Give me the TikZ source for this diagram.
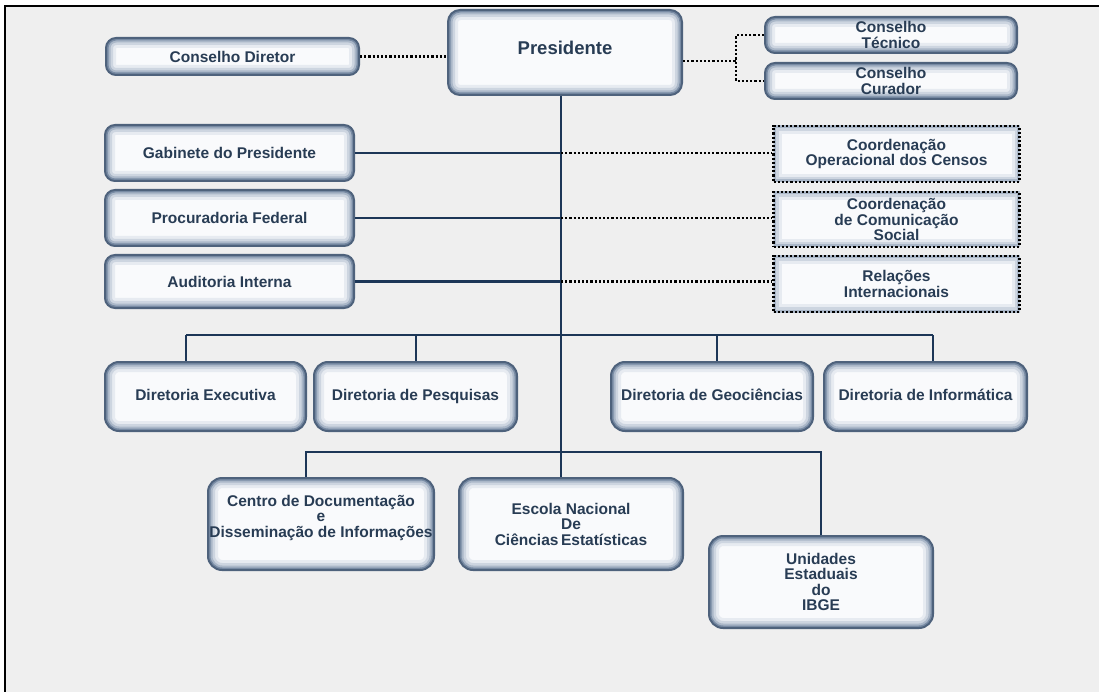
\documentclass[tikz,border=0pt]{standalone}
\usepackage{fontspec}
\setmainfont{Liberation Sans}
\usepackage{tikz}
\usetikzlibrary{positioning}

\definecolor{sheet}{RGB}{239,239,239}
\definecolor{inktext}{RGB}{40,60,84}
\definecolor{boxedge}{RGB}{78,98,124}
\definecolor{glowout}{RGB}{120,139,164}
\definecolor{glowmid}{RGB}{170,183,200}
\definecolor{glowsoft}{RGB}{205,213,224}
\definecolor{glowin}{RGB}{231,235,241}
\definecolor{boxfill}{RGB}{249,250,252}
\definecolor{navyline}{RGB}{28,54,87}

\begin{document}
\begin{tikzpicture}[x=1pt,y=1pt,yscale=-1,xscale=1,
  orgbox/.style={rectangle, rounded corners=#1, fill=boxfill, draw=boxedge, line width=2pt,
    inner sep=0pt, align=center, text=inktext, font=\fontsize{15.5}{15.5}\selectfont\bfseries,
    path picture={
      \draw[glowin, line width=20pt, rounded corners=#1] (path picture bounding box.south west) rectangle (path picture bounding box.north east);
      \draw[glowsoft, line width=14pt, rounded corners=#1] (path picture bounding box.south west) rectangle (path picture bounding box.north east);
      \draw[glowmid, line width=9pt, rounded corners=#1] (path picture bounding box.south west) rectangle (path picture bounding box.north east);
      \draw[glowout, line width=5pt, rounded corners=#1] (path picture bounding box.south west) rectangle (path picture bounding box.north east);
    }},
  orgbox/.default=10pt,
  dirbox/.style={orgbox=14pt, minimum height=69pt, text height=11.5pt, text depth=3.5pt},
  dotbox/.style={rectangle, fill=boxfill, draw=black, line width=2.2pt, dash pattern=on 2.2pt off 2pt,
    inner sep=0pt, align=center, text=inktext, font=\fontsize{15.5}{15.5}\selectfont\bfseries,
    path picture={
      \draw[glowin, solid, line width=16pt] (path picture bounding box.south west) rectangle (path picture bounding box.north east);
      \draw[glowsoft, solid, line width=10pt] (path picture bounding box.south west) rectangle (path picture bounding box.north east);
      \draw[glowmid, solid, line width=5pt] (path picture bounding box.south west) rectangle (path picture bounding box.north east);
    }},
  trunkline/.style={navyline, line width=2.8pt},
  staffline/.style={navyline, line width=2.2pt},
  busline/.style={navyline, line width=1.6pt},
  dotline/.style={black, line width=2.2pt, dash pattern=on 2.2pt off 2pt}]
\useasboundingbox (0,0) rectangle (1099,692);

%Shape: Rectangle (sheet and frame)
\fill[white] (0,0) rectangle (1099,692);
\fill[sheet] (5,6) rectangle (1099,692);
\draw[line width=2.8pt] (5,692) -- (5,6) -- (1099,6);

%Shape: Rounded Rectangle (top row)
\node[orgbox, minimum width=253pt, minimum height=37pt] (condir) at (232.5,56.5) {Conselho Diretor};
\node[orgbox=12pt, minimum width=234pt, minimum height=85pt, text depth=9pt, font=\fontsize{18.5}{20}\selectfont\bfseries] (pres) at (565,52.5) {Presidente};
\node[orgbox, minimum width=252pt, minimum height=36pt] (contec) at (891,35) {Conselho\\Técnico};
\node[orgbox, minimum width=252pt, minimum height=36pt] (concur) at (891,81) {Conselho\\Curador};

%Shape: Rounded Rectangle (staff)
\node[orgbox, minimum width=249pt, minimum height=56pt] (gab) at (229.5,153) {Gabinete do Presidente};
\node[orgbox, minimum width=249pt, minimum height=56pt] (proc) at (229.5,218) {Procuradoria Federal};
\node[orgbox, minimum width=249pt, minimum height=53pt] (aud) at (229.5,281.5) {Auditoria Interna};

%Shape: Rectangle (dotted)
\node[dotbox, minimum width=246pt, minimum height=56pt] (coordop) at (896.5,154) {Coordenação\\Operacional dos Censos};
\node[dotbox, minimum width=246pt, minimum height=55pt] (comsoc) at (896.5,219.5) {Coordenação\\de Comunicação\\Social};
\node[dotbox, minimum width=246pt, minimum height=56pt] (relint) at (896.5,284) {Relações\\Internacionais};

%Shape: Rounded Rectangle (diretorias)
\node[dirbox, minimum width=201pt] (direx) at (205.5,396.5) {Diretoria Executiva};
\node[dirbox, minimum width=203pt] (dirpes) at (415.5,396.5) {Diretoria de Pesquisas};
\node[dirbox, minimum width=202pt] (dirgeo) at (712,396.5) {Diretoria de Geociências};
\node[dirbox, minimum width=203pt] (dirinf) at (925.5,396.5) {Diretoria de Informática};

%Shape: Rounded Rectangle (bottom row)
\node[orgbox=14pt, minimum width=226pt, minimum height=92pt] (cendoc) at (321,524) {Centro de Documentação\\e\\Disseminação de Informações\\[0pt]};
\node[orgbox=14pt, minimum width=224pt, minimum height=92pt] (escola) at (571,524) {Escola Nacional\\De\\Ciências\,Estatísticas};
\node[orgbox=14pt, minimum width=224pt, minimum height=92pt] (unid) at (821,582) {Unidades\\Estaduais\\do\\IBGE};

%Straight Lines
\coordinate (trunk) at (561,452);
\coordinate (fork) at (736,61);
\coordinate (dropex) at (186,335);
\coordinate (droppes) at (416,335);
\coordinate (dropgeo) at (717,335);
\coordinate (dropinf) at (933,335);
\coordinate (dropcen) at (306,452);
\coordinate (dropuni) at (821,452);

\draw[dotline] (condir.east) -- (condir.east -| pres.west);
\draw[dotline] (pres.east |- fork) -- (fork);
\draw[dotline] (contec.west) -| (fork) |- (concur.west);

\draw[trunkline] (pres.south -| trunk) -- (escola.north -| trunk);

\draw[staffline] (gab.east) -- (gab.east -| trunk);
\draw[staffline] (proc.east) -- (proc.east -| trunk);
\draw[staffline] (aud.east) -- (aud.east -| trunk);
\draw[dotline] (gab.east -| trunk) -- (gab.east -| coordop.west);
\draw[dotline] (proc.east -| trunk) -- (proc.east -| comsoc.west);
\draw[dotline] (aud.east -| trunk) -- (aud.east -| relint.west);

\draw[busline] (dropex) -- (dropinf);
\foreach \drop/\unit in {dropex/direx, droppes/dirpes, dropgeo/dirgeo, dropinf/dirinf}
  \draw[busline] (\drop) -- (\drop |- \unit.north);

\draw[busline] (dropcen |- cendoc.north) -- (dropcen) -- (dropuni) -- (dropuni |- unid.north);

\end{tikzpicture}
\end{document}
